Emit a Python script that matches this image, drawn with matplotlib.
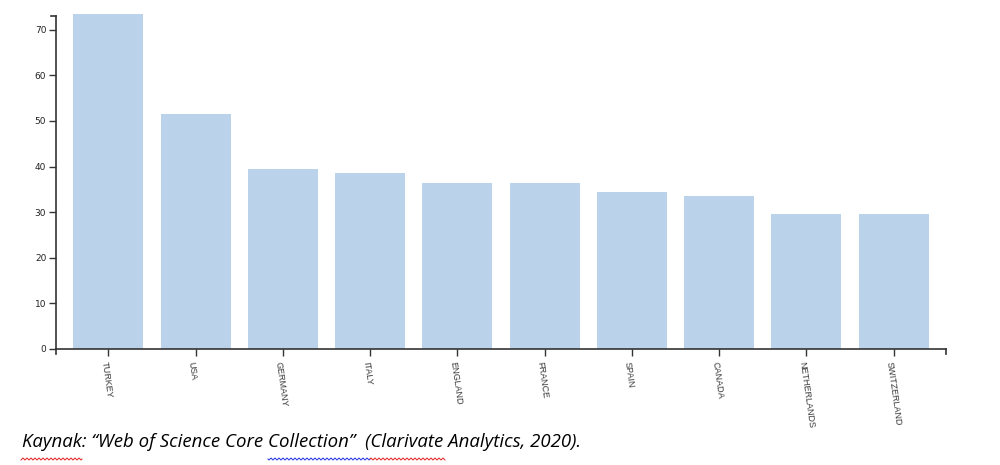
import matplotlib.pyplot as plt
import numpy as np

# values
countries = ['TURKEY', 'USA', 'GERMANY', 'ITALY', 'ENGLAND', 'FRANCE',
             'SPAIN', 'CANADA', 'NETHERLANDS', 'SWITZERLAND']
counts = [73.5, 51.5, 39.5, 38.5, 36.5, 36.5, 34.5, 33.5, 29.5, 29.5]
y_ticks = [0, 10, 20, 30, 40, 50, 60, 70]

W, H = 1000, 465
fig = plt.figure(figsize=(W / 100, H / 100), dpi=100)
ax = fig.add_axes([0.056, 0.2495, 0.89, 0.716])

x = np.arange(len(countries))
ax.bar(x, counts, width=0.8, color='#bad3ea', clip_on=False, zorder=1)

ax.set_xlim(-0.6, len(countries) - 0.4)
ax.set_ylim(0, 73)

axis_col = '#333333'
for side in ['top', 'right']:
    ax.spines[side].set_visible(False)
for side in ['left', 'bottom']:
    ax.spines[side].set_color(axis_col)
    ax.spines[side].set_linewidth(1.2)
    ax.spines[side].set_zorder(3)

ax.set_yticks(y_ticks)
ax.set_yticklabels([str(v) for v in y_ticks])
ax.set_xticks(x)
ax.set_xticklabels(countries, rotation=-82, ha='left', va='top',
                   rotation_mode='anchor', fontsize=6.5, color='#3a3a3a',
                   family='Liberation Sans')
ax.tick_params(axis='y', length=5, width=1, color=axis_col, labelsize=6.5,
               pad=2, labelcolor='#222222')
ax.tick_params(axis='x', length=5, width=1, color=axis_col, pad=4)

# outer ticks at the ends of the axes (d3 style)
ax.plot([-0.6, -0.6], [0, -1.1], color=axis_col, lw=1.2, clip_on=False)
ax.plot([len(countries) - 0.4] * 2, [0, -1.1], color=axis_col, lw=1.2,
        clip_on=False)
ax.plot([-0.6, -0.66], [73, 73], color=axis_col, lw=1.2, clip_on=False)

fig.text(0.022, 0.038,
         'Kaynak: \u201cWeb of Science Core Collection\u201d  (Clarivate Analytics, 2020).',
         fontsize=13.4, style='italic', family='Open Sans', color='black')

# spell-check squiggles under the source line
def squiggle(x0, x1, col, y=459):
    xs = np.arange(x0, x1 + 0.5, 1.0)
    ys = y + 1.0 * np.sin(xs * np.pi / 2)
    fig.add_artist(plt.Line2D(xs / W, 1 - ys / H, color=col, lw=0.7))

squiggle(21, 82, '#e02020')
squiggle(268, 370, '#2030e0')
squiggle(370, 445, '#e02020')

plt.savefig('out.png', dpi=100)
